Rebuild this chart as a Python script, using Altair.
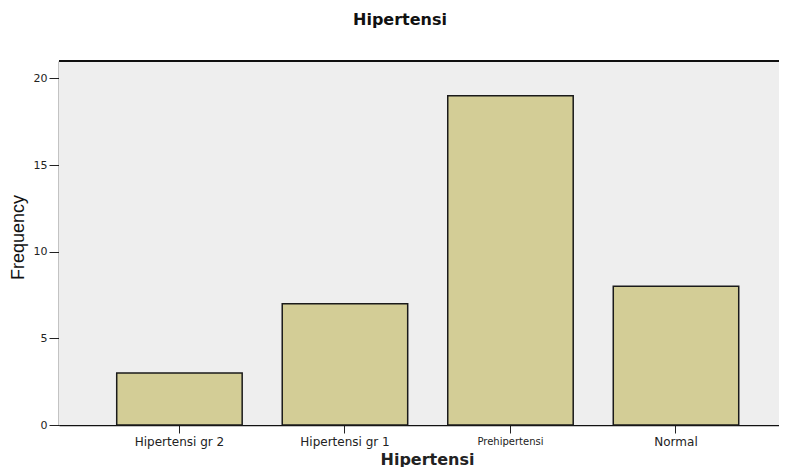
import altair as alt
import pandas as pd

categories = ["Hipertensi gr 2", "Hipertensi gr 1", "Prehipertensi", "Normal"]
frequencies = [3, 7, 19, 8]

df = pd.DataFrame({"Hipertensi": categories, "Frequency": frequencies})

W, H = 720, 364

background = alt.Chart(df).mark_rect(color="#eeeeee").encode(
    x=alt.value(0), x2=alt.value(W), y=alt.value(0), y2=alt.value(H)
)

bars = alt.Chart(df).mark_bar(
    fill="#d3cd96", stroke="#1a1a1a", strokeWidth=1.5
).encode(
    x=alt.X("Hipertensi:N", sort=categories,
            scale=alt.Scale(paddingInner=0.242, paddingOuter=0.296, align=0.589),
            axis=alt.Axis(title="Hipertensi", labelAngle=0,
                          labelFontSize=alt.expr("datum.value == 'Prehipertensi' ? 10 : 12"),
                          labelFont="DejaVu Sans", labelColor="#222222", labelPadding=3,
                          tickSize=8, tickColor="#222222", domainColor="#111111", domainWidth=1.5,
                          titleFont="DejaVu Sans", titleFontSize=16, titleFontWeight="bold",
                          titleColor="#222222", titlePadding=4, titleX=368, titleAlign="center")),
    y=alt.Y("Frequency:Q", scale=alt.Scale(domain=[0, 21], nice=False),
            axis=alt.Axis(title="Frequency", values=[0, 5, 10, 15, 20], grid=False,
                          labelFont="DejaVu Sans", labelFontSize=11, labelColor="#222222",
                          tickSize=10, tickColor="#222222", domainColor="#111111", domainWidth=1.5,
                          labelPadding=2,
                          titleFont="Liberation Sans", titleFontSize=18,
                          titleFontWeight="normal", titleColor="#111111", titlePadding=6,
                          titleY=176, titleAlign="center")),
)

top_border = alt.Chart(df).mark_rule(color="#111111", strokeWidth=1.5).encode(
    x=alt.value(0), x2=alt.value(W), y=alt.value(0)
)

chart = alt.layer(background, bars, top_border).properties(
    width=W, height=H,
    title=alt.TitleParams("Hipertensi", font="DejaVu Sans", fontSize=16, fontWeight="bold",
                          color="#111111", anchor="middle", dx=-19, offset=32),
    autosize=alt.AutoSizeParams(type="none"),
    padding={"left": 51, "top": 53, "right": 0, "bottom": 42},
).configure_view(stroke=None).configure(background="white")

chart.save("out.html", embed_options={"renderer": "svg", "actions": False})
